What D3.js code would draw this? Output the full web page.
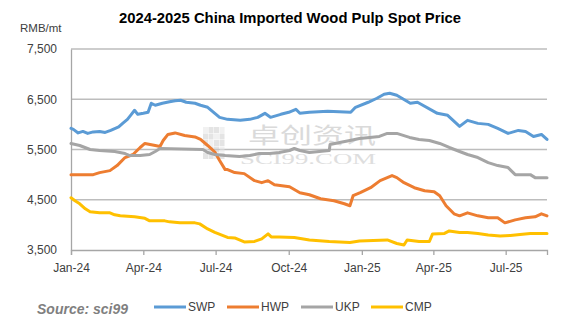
<!DOCTYPE html>
<html>
<head>
<meta charset="utf-8">
<script src="https://cdn.jsdelivr.net/npm/d3@7"></script>
<style>
  html, body { margin: 0; padding: 0; background: #fff; }
  svg { display: block; }
</style>
</head>
<body>
<svg id="chart" width="569" height="326"></svg>
<script>
// ---- Data (RMB/mt) ----
const swpDates = ["2024-01-01","2024-01-04","2024-01-10","2024-01-16","2024-01-22","2024-01-29","2024-02-06","2024-02-13","2024-02-20","2024-03-01","2024-03-06","2024-03-12","2024-03-16","2024-03-21","2024-03-25","2024-04-01","2024-04-07","2024-04-11","2024-04-16","2024-04-25","2024-05-04","2024-05-11","2024-05-18","2024-05-25","2024-06-05","2024-06-12","2024-06-21","2024-06-30","2024-07-06","2024-07-16","2024-08-01","2024-08-13","2024-08-23","2024-09-01","2024-09-08","2024-09-21","2024-10-01","2024-10-10","2024-10-15","2024-10-27","2024-11-19","2024-12-18","2024-12-24","2025-01-09","2025-01-20","2025-01-29","2025-02-05","2025-02-14","2025-03-03","2025-03-12","2025-04-06","2025-04-19","2025-05-04","2025-05-14","2025-05-27","2025-06-09","2025-06-21","2025-07-04","2025-07-17","2025-07-26","2025-08-05","2025-08-15","2025-08-22"];
const swpValues = [5920,5900,5830,5860,5820,5850,5860,5840,5880,5950,6020,6100,6180,6280,6200,6220,6240,6420,6380,6420,6450,6470,6480,6440,6420,6380,6340,6220,6140,6100,6080,6100,6140,6220,6140,6200,6240,6300,6220,6240,6260,6240,6340,6440,6520,6600,6620,6580,6420,6440,6220,6180,5960,6080,6020,6000,5920,5820,5880,5860,5760,5800,5700];

const hwpDates = ["2024-01-01","2024-01-29","2024-02-06","2024-02-19","2024-02-28","2024-03-09","2024-03-19","2024-03-28","2024-04-03","2024-04-16","2024-04-22","2024-04-26","2024-05-02","2024-05-11","2024-05-23","2024-06-05","2024-06-12","2024-06-21","2024-06-30","2024-07-06","2024-07-13","2024-07-16","2024-07-25","2024-08-06","2024-08-19","2024-08-28","2024-09-05","2024-09-13","2024-10-02","2024-10-15","2024-10-27","2024-11-10","2024-11-27","2024-12-10","2024-12-17","2024-12-21","2024-12-30","2025-01-12","2025-01-24","2025-02-02","2025-02-08","2025-02-14","2025-02-23","2025-03-08","2025-03-21","2025-04-02","2025-04-09","2025-04-17","2025-04-27","2025-05-04","2025-05-14","2025-05-27","2025-06-09","2025-06-21","2025-06-30","2025-07-13","2025-07-26","2025-08-07","2025-08-15","2025-08-22"];
const hwpValues = [5000,5000,5040,5080,5180,5340,5400,5540,5620,5580,5560,5680,5800,5830,5780,5750,5700,5580,5450,5280,5100,5100,5040,5020,4880,4840,4880,4800,4760,4640,4600,4520,4480,4420,4380,4580,4640,4740,4880,4940,4980,4940,4840,4740,4680,4660,4580,4380,4220,4180,4240,4180,4140,4140,4040,4100,4140,4160,4220,4180];

const ukpDates = ["2024-01-01","2024-01-12","2024-01-25","2024-02-06","2024-02-25","2024-03-09","2024-03-15","2024-03-28","2024-04-09","2024-04-16","2024-04-22","2024-06-15","2024-06-21","2024-06-30","2024-07-13","2024-07-31","2024-08-13","2024-08-25","2024-09-07","2024-09-19","2024-10-02","2024-10-08","2024-10-15","2024-10-27","2024-11-21","2024-11-22","2024-12-04","2024-12-17","2024-12-29","2025-01-11","2025-01-23","2025-02-02","2025-02-14","2025-03-02","2025-03-14","2025-03-27","2025-04-09","2025-04-21","2025-05-04","2025-05-14","2025-05-27","2025-06-09","2025-06-21","2025-07-04","2025-07-13","2025-08-01","2025-08-07","2025-08-22"];
const ukpValues = [5620,5580,5500,5480,5460,5420,5380,5380,5400,5460,5520,5500,5440,5400,5380,5360,5380,5420,5420,5440,5480,5520,5480,5440,5480,5600,5640,5680,5720,5740,5760,5820,5820,5740,5700,5680,5620,5540,5460,5400,5340,5240,5180,5140,5000,5000,4940,4940];

const cmpDates = ["2024-01-01","2024-01-06","2024-01-12","2024-01-19","2024-01-25","2024-02-06","2024-02-19","2024-02-25","2024-03-03","2024-03-21","2024-04-03","2024-04-09","2024-04-28","2024-05-04","2024-05-17","2024-06-05","2024-06-11","2024-06-21","2024-06-30","2024-07-08","2024-07-16","2024-07-25","2024-08-06","2024-08-19","2024-08-28","2024-09-05","2024-09-09","2024-09-19","2024-10-08","2024-10-27","2024-11-21","2024-12-17","2024-12-29","2025-02-02","2025-02-14","2025-02-23","2025-02-27","2025-03-14","2025-03-27","2025-03-31","2025-04-15","2025-04-21","2025-05-04","2025-05-14","2025-05-27","2025-06-09","2025-06-24","2025-07-07","2025-07-19","2025-08-01","2025-08-22"];
const cmpValues = [4540,4480,4420,4320,4260,4240,4240,4200,4180,4160,4130,4080,4080,4060,4040,4040,4020,3920,3850,3800,3750,3740,3660,3670,3720,3820,3760,3760,3750,3700,3670,3650,3680,3700,3630,3600,3700,3670,3670,3820,3830,3880,3850,3850,3830,3800,3780,3790,3810,3830,3830];

const seriesNames = ["SWP", "HWP", "UKP", "CMP"];
const seriesColors = ["#5b9bd5", "#ed7d31", "#a5a5a5", "#ffc000"];
const yTicks = [3500, 4500, 5500, 6500, 7500];
const xTickDates = ["2024-01-01","2024-04-01","2024-07-01","2024-10-01","2025-01-01","2025-04-01","2025-07-01"];

// ---- Build series ----
const parse = d3.timeParse("%Y-%m-%d");
const series = [
  { dates: swpDates, values: swpValues },
  { dates: hwpDates, values: hwpValues },
  { dates: ukpDates, values: ukpValues },
  { dates: cmpDates, values: cmpValues }
].map((s, i) => ({
  name: seriesNames[i],
  color: seriesColors[i],
  points: s.dates.map((d, j) => ({ date: parse(d), value: s.values[j] }))
}));

// ---- Layout ----
const svg = d3.select("#chart");
const plot = { left: 71, right: 547, top: 49, bottom: 250 };

const x = d3.scaleTime()
  .domain([parse("2024-01-01"), parse("2025-08-22")])
  .range([plot.left, plot.right]);
const y = d3.scaleLinear()
  .domain([3500, 7500])
  .range([plot.bottom, plot.top]);

const font = "'Liberation Sans', Arial, sans-serif";

// Title
svg.append("text")
  .attr("x", 290).attr("y", 23)
  .attr("text-anchor", "middle")
  .attr("font-family", font)
  .attr("font-weight", "bold")
  .attr("font-size", 15)
  .attr("fill", "#000")
  .attr("textLength", 342)
  .attr("lengthAdjust", "spacingAndGlyphs")
  .text("2024-2025 China Imported Wood Pulp Spot Price");

// Unit label
svg.append("text")
  .attr("x", 20).attr("y", 32)
  .attr("font-family", font)
  .attr("font-size", 11.5)
  .attr("fill", "#404040")
  .text("RMB/mt");

// Gridlines
svg.append("g")
  .selectAll("line")
  .data(yTicks.filter(v => v !== 3500))
  .join("line")
  .attr("x1", plot.left).attr("x2", plot.right)
  .attr("y1", d => y(d)).attr("y2", d => y(d))
  .attr("stroke", "#bdbdbd")
  .attr("stroke-width", 1.3);

// Y axis
const yAxis = svg.append("g")
  .attr("transform", `translate(${plot.left},0)`)
  .call(d3.axisLeft(y).tickValues(yTicks).tickSize(0).tickPadding(14)
    .tickFormat(d3.format(",")));
yAxis.select(".domain").attr("stroke", "#a6a6a6").attr("stroke-width", 1.3);
yAxis.selectAll("text")
  .attr("font-family", font).attr("font-size", 12).attr("fill", "#404040");

// X axis
const xAxis = svg.append("g")
  .attr("transform", `translate(0,${plot.bottom})`)
  .call(d3.axisBottom(x).tickValues(xTickDates.map(parse)).tickSize(5).tickPadding(8)
    .tickFormat(d3.timeFormat("%b-%y")));
xAxis.select(".domain").attr("stroke", "#a6a6a6").attr("stroke-width", 1.3);
xAxis.selectAll(".tick line").attr("stroke", "#a6a6a6").attr("stroke-width", 1.3);
xAxis.selectAll("text")
  .attr("font-family", font).attr("font-size", 12).attr("fill", "#404040");

// Watermark
const wm = svg.append("g").attr("opacity", 0.55);
const cells = [];
for (let r = 0; r < 5; r++) for (let c = 0; c < 4; c++) cells.push([r, c]);
wm.selectAll("rect")
  .data(cells)
  .join("rect")
  .attr("x", d => 203 + d[1] * 5.5)
  .attr("y", d => 127 + d[0] * 6.5)
  .attr("width", 5)
  .attr("height", 6)
  .attr("fill", d => (d[0] + d[1]) % 3 === 0 ? "#e6e6e6" : "#cfcfcf");
wm.append("text")
  .attr("x", 248).attr("y", 143)
  .attr("font-family", "'Noto Sans CJK SC', sans-serif")
  .attr("font-size", 22)
  .attr("fill", "#bdbdbd")
  .attr("textLength", 128)
  .attr("lengthAdjust", "spacingAndGlyphs")
  .text("卓创资讯");
wm.append("text")
  .attr("x", 240).attr("y", 164)
  .attr("font-family", "'Liberation Serif', serif")
  .attr("font-size", 14)
  .attr("fill", "#c4c4c4")
  .attr("textLength", 136)
  .attr("lengthAdjust", "spacingAndGlyphs")
  .text("SCI99.COM");

// Lines
const line = d3.line()
  .x(d => x(d.date))
  .y(d => y(d.value));

svg.append("g")
  .selectAll("path")
  .data(series)
  .join("path")
  .attr("d", d => line(d.points))
  .attr("fill", "none")
  .attr("stroke", d => d.color)
  .attr("stroke-width", 3)
  .attr("stroke-linejoin", "round")
  .attr("stroke-linecap", "round");

// Source note
svg.append("text")
  .attr("x", 37).attr("y", 314)
  .attr("font-family", font)
  .attr("font-weight", "bold")
  .attr("font-style", "italic")
  .attr("font-size", 14)
  .attr("fill", "#7f7f7f")
  .text("Source: sci99");

// Legend
const legendX = [154, 227, 301, 371];
const legend = svg.append("g")
  .selectAll("g")
  .data(series)
  .join("g")
  .attr("transform", (d, i) => `translate(${legendX[i]},307)`);
legend.append("line")
  .attr("x1", 0).attr("x2", 32)
  .attr("stroke", d => d.color)
  .attr("stroke-width", 3);
legend.append("text")
  .attr("x", 34).attr("y", 4)
  .attr("font-family", font)
  .attr("font-size", 12)
  .attr("fill", "#404040")
  .text(d => d.name);
</script>
</body>
</html>
